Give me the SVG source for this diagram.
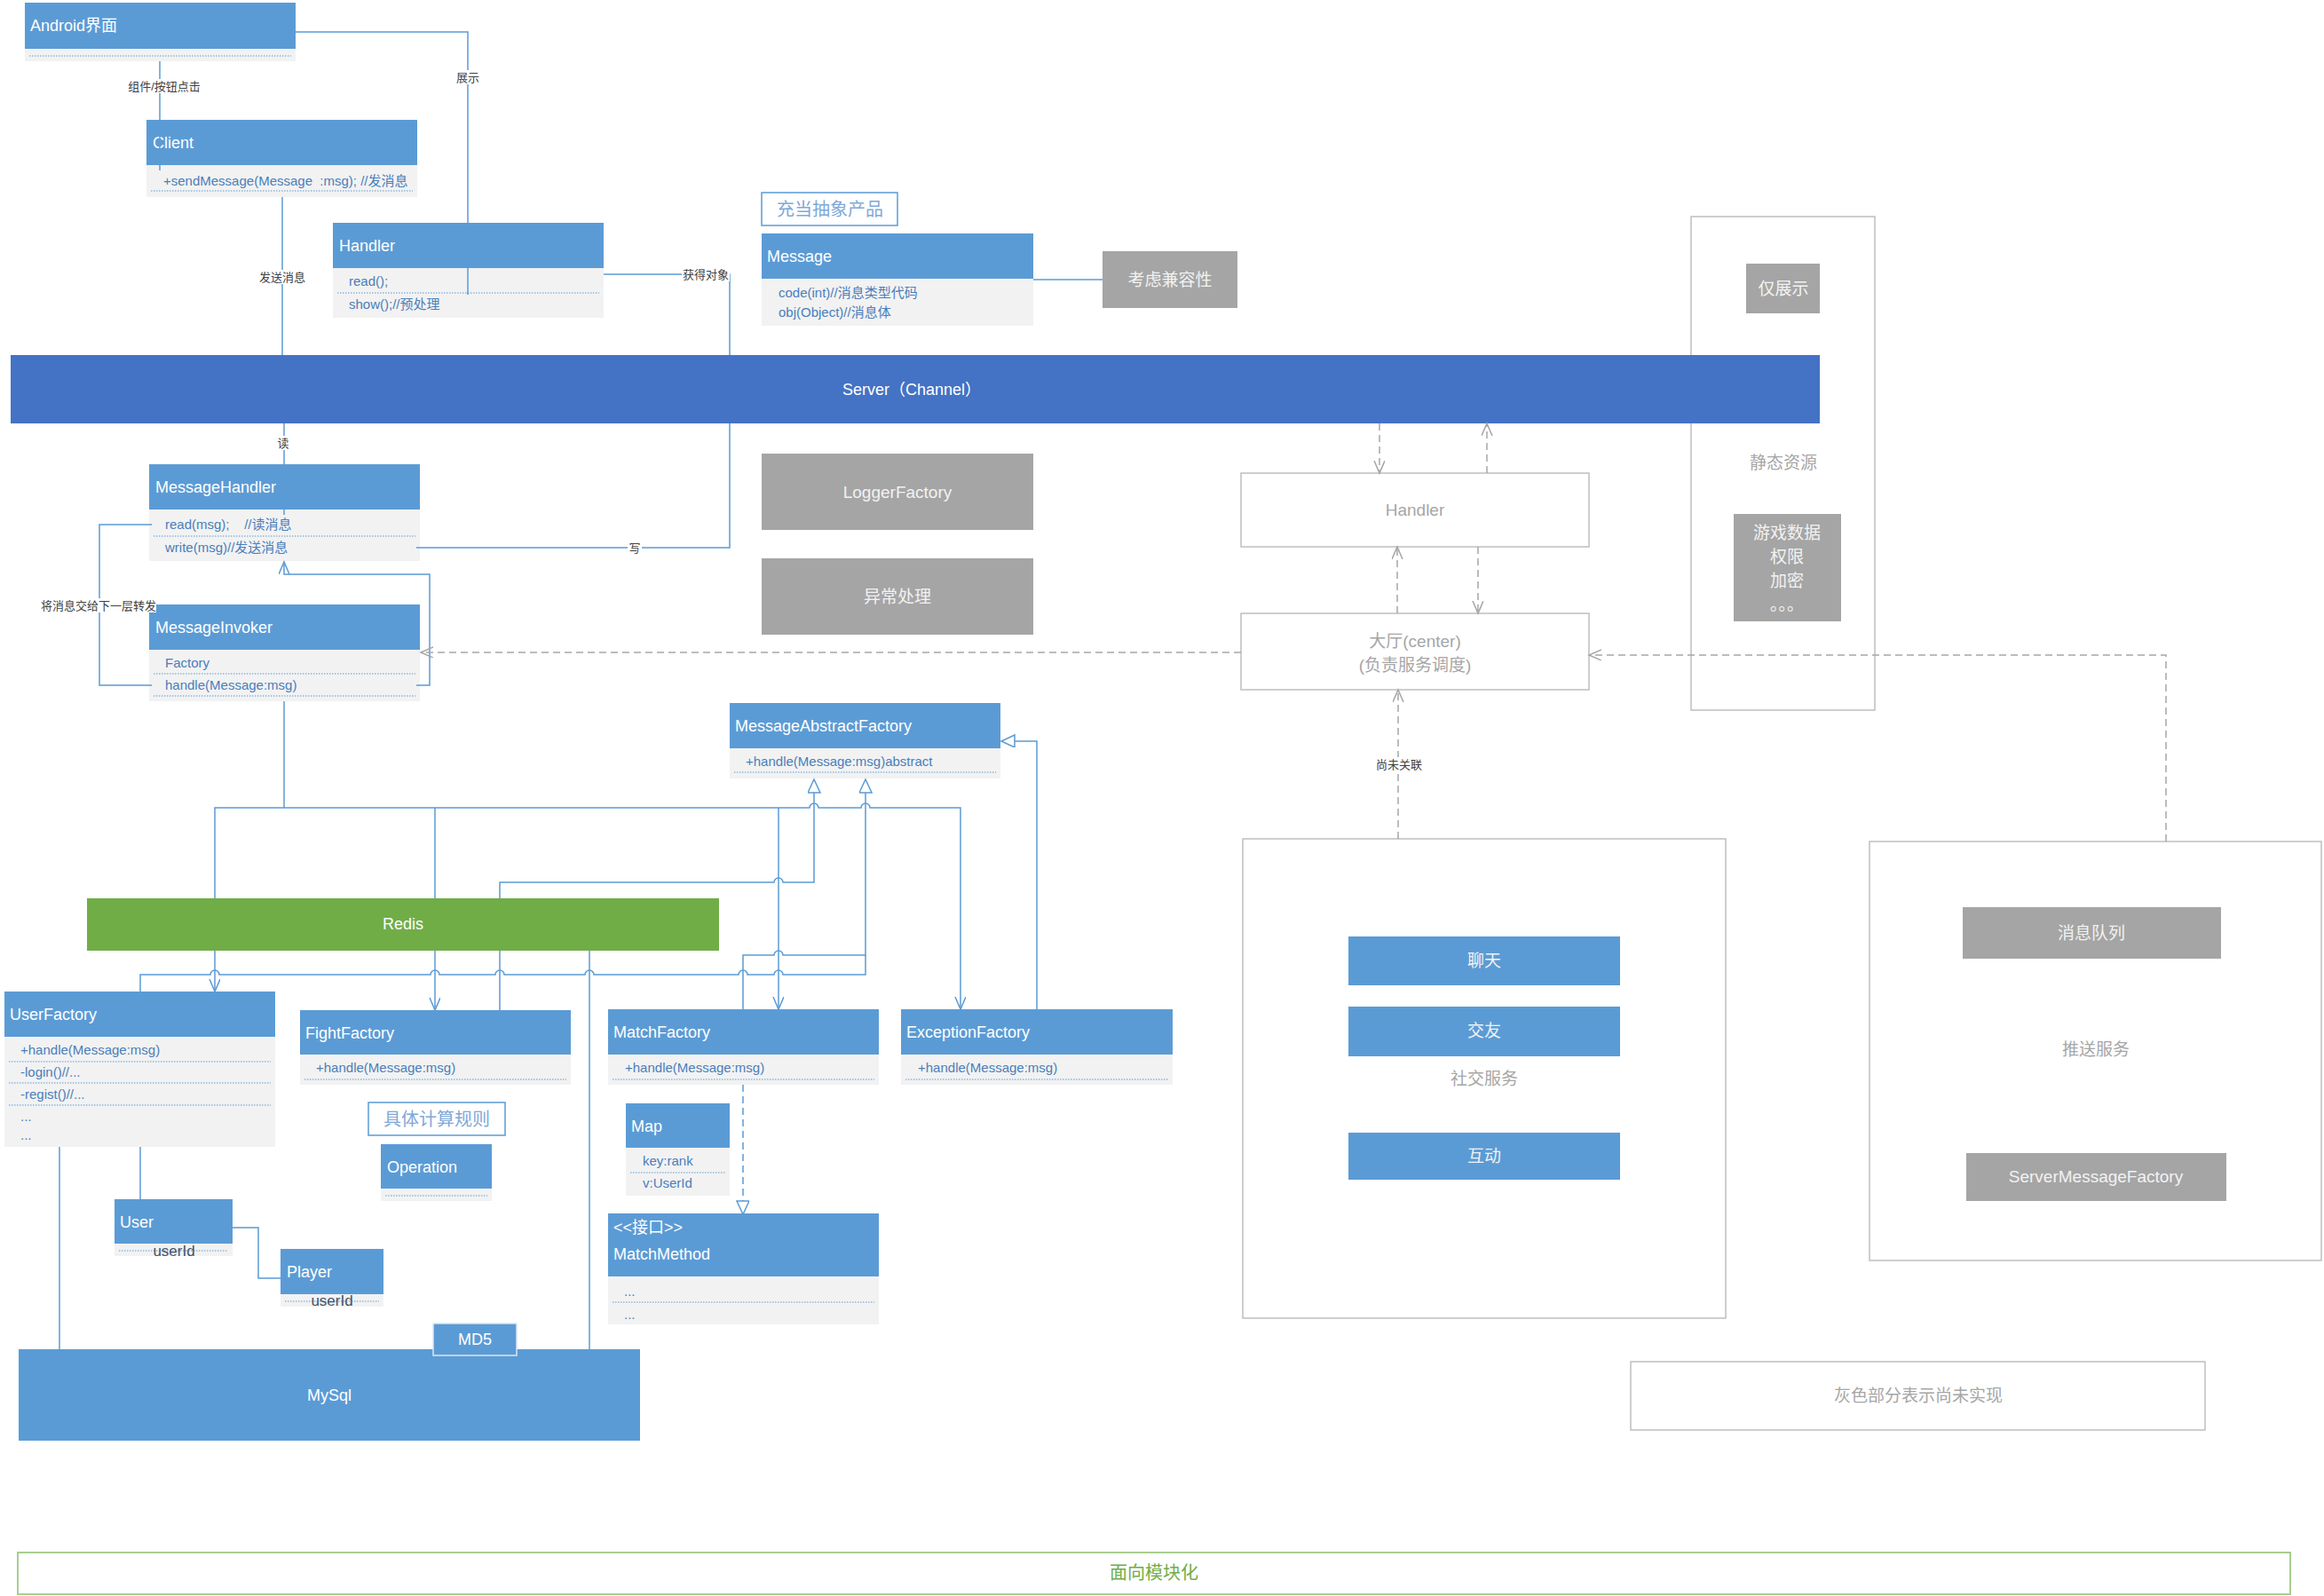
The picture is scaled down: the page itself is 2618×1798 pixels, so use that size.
<svg xmlns="http://www.w3.org/2000/svg" width="2618" height="1798" viewBox="0 0 2618 1798">
<style>
text{font-family:"Liberation Sans","Noto Sans CJK SC",sans-serif}
.hdr{fill:#5b9bd5}
.cmp{fill:#f2f2f2}
.ttl{font-size:18px;fill:#ffffff}
.mem{font-size:15px;fill:#4a7ebb;white-space:pre}
.dot{stroke:#5b9bd5;stroke-width:1;stroke-dasharray:1.5 1.5}
.lbl{font-size:13px;fill:#404040;text-anchor:middle}
.lbg{fill:#ffffff}
.gray{fill:#a5a5a5}
.wt{font-size:19px;fill:#f2f2f2;text-anchor:middle}
.cont{fill:#ffffff;stroke:#bfbfbf;stroke-width:1.5}
.gt{font-size:19px;fill:#a6a6a6;text-anchor:middle}
.ln{fill:none;stroke:#5b9bd5;stroke-width:1.5}
.dl{fill:none;stroke:#a6a6a6;stroke-width:1.5;stroke-dasharray:8 5}
.note{fill:#ffffff;stroke:#5b9bd5;stroke-width:1.5}
.nt{font-size:20px;fill:#7fa8d8;text-anchor:middle}
.uid{font-size:17px;fill:#44546a;text-anchor:middle}
</style>
<defs>
<marker id="oa" markerUnits="userSpaceOnUse" markerWidth="16" markerHeight="14" refX="14" refY="6" orient="auto-start-reverse">
<path d="M0,0 L14,6 L0,12" fill="none" stroke="#5b9bd5" stroke-width="1.5"/>
</marker>
<marker id="tri" markerUnits="userSpaceOnUse" markerWidth="18" markerHeight="16" refX="16" refY="7" orient="auto">
<path d="M1,0 L16,7 L1,14 Z" fill="#ffffff" stroke="#5b9bd5" stroke-width="1.5"/>
</marker>
<marker id="ga" markerUnits="userSpaceOnUse" markerWidth="16" markerHeight="14" refX="14" refY="6" orient="auto">
<path d="M0,0 L14,6 L0,12" fill="none" stroke="#a6a6a6" stroke-width="1.5"/>
</marker>
</defs>
<rect width="2618" height="1798" fill="#ffffff"/>

<!-- containers -->
<g id="static-resources">
<rect class="cont" x="1905" y="244" width="207" height="556"/>
<text class="gt" x="2009" y="528">静态资源</text>
</g>
<g id="social-service">
<rect class="cont" x="1400" y="945" width="544" height="540"/>
<text class="gt" x="1672" y="1222">社交服务</text>
</g>
<g id="push-service">
<rect class="cont" x="2106" y="948" width="509" height="472"/>
<text class="gt" x="2361" y="1189">推送服务</text>
</g>
<g id="gray-note">
<rect class="cont" x="1837" y="1534" width="647" height="77"/>
<text class="gt" x="2161" y="1579">灰色部分表示尚未实现</text>
</g>
<g id="modular">
<rect x="20" y="1749" width="2560" height="47" fill="#ffffff" stroke="#8cbf6c" stroke-width="1.5"/>
<text x="1300" y="1779" font-size="20" fill="#70ad47" text-anchor="middle">面向模块化</text>
</g>

<g id="server">
<rect x="12" y="400" width="2038" height="77" fill="#4472c4"/>
<text x="1027" y="445" font-size="18" fill="#ffffff" text-anchor="middle">Server（Channel）</text>
</g>

<!-- class nodes -->
<g id="android">
<rect class="cmp" x="28" y="3" width="305" height="66"/>
<rect class="hdr" x="28" y="3" width="305" height="52"/>
<line class="dot" x1="33" y1="63" x2="328" y2="63"/>
<text class="ttl" x="34" y="35">Android界面</text>
</g>
<g id="client">
<rect class="cmp" x="165" y="135" width="305" height="87"/>
<rect class="hdr" x="165" y="135" width="305" height="51"/>
<text class="ttl" x="172" y="167">Client</text>
<text class="mem" x="184" y="209">+sendMessage(Message  :msg); //发消息</text>
<line class="dot" x1="170" y1="215" x2="465" y2="215"/>
</g>
<g id="handler">
<rect class="cmp" x="375" y="251" width="305" height="107"/>
<rect class="hdr" x="375" y="251" width="305" height="51"/>
<text class="ttl" x="382" y="283">Handler</text>
<text class="mem" x="393" y="322">read();</text>
<line class="dot" x1="380" y1="330" x2="675" y2="330"/>
<text class="mem" x="393" y="348">show();//预处理</text>
</g>
<g id="abstract-product-note">
<rect class="note" x="858" y="217" width="153" height="37"/>
<text class="nt" x="935" y="243">充当抽象产品</text>
</g>
<g id="message">
<rect class="cmp" x="858" y="263" width="306" height="104"/>
<rect class="hdr" x="858" y="263" width="306" height="51"/>
<text class="ttl" x="864" y="295">Message</text>
<text class="mem" x="877" y="335">code(int)//消息类型代码</text>
<text class="mem" x="877" y="357">obj(Object)//消息体</text>
</g>
<g id="compat">
<rect class="gray" x="1242" y="283" width="152" height="64"/>
<text class="wt" x="1318" y="322" font-size="20">考虑兼容性</text>
</g>
<g id="logger-factory">
<rect class="gray" x="858" y="511" width="306" height="86"/>
<text class="wt" x="1011" y="561">LoggerFactory</text>
</g>
<g id="exception-handling">
<rect class="gray" x="858" y="629" width="306" height="86"/>
<text class="wt" x="1011" y="679">异常处理</text>
</g>
<g id="display-only">
<rect class="gray" x="1967" y="297" width="83" height="56"/>
<text class="wt" x="2009" y="332">仅展示</text>
</g>
<g id="game-data">
<rect class="gray" x="1953" y="579" width="121" height="121"/>
<text class="wt" x="2013" y="607">游戏数据</text>
<text class="wt" x="2013" y="634">权限</text>
<text class="wt" x="2013" y="661">加密</text>
<text class="wt" x="2013" y="688" font-size="14">。。。</text>
</g>
<g id="message-handler">
<rect class="cmp" x="168" y="523" width="305" height="109"/>
<rect class="hdr" x="168" y="523" width="305" height="51"/>
<text class="ttl" x="175" y="555">MessageHandler</text>
<text class="mem" x="186" y="596">read(msg);    //读消息</text>
<line class="dot" x1="173" y1="604" x2="468" y2="604"/>
<text class="mem" x="186" y="622">write(msg)//发送消息</text>
</g>
<g id="message-invoker">
<rect class="cmp" x="168" y="681" width="305" height="109"/>
<rect class="hdr" x="168" y="681" width="305" height="51"/>
<text class="ttl" x="175" y="713">MessageInvoker</text>
<text class="mem" x="186" y="752">Factory</text>
<line class="dot" x1="173" y1="759" x2="468" y2="759"/>
<text class="mem" x="186" y="777">handle(Message:msg)</text>
<line class="dot" x1="173" y1="784" x2="468" y2="784"/>
</g>
<g id="handler-right">
<rect class="cont" x="1398" y="533" width="392" height="83"/>
<text class="gt" x="1594" y="581" font-size="18">Handler</text>
</g>
<g id="lobby">
<rect class="cont" x="1398" y="691" width="392" height="86"/>
<text class="gt" x="1594" y="729">大厅(center)</text>
<text class="gt" x="1594" y="756">(负责服务调度)</text>
</g>
<g id="message-abstract-factory">
<rect class="cmp" x="822" y="792" width="305" height="85"/>
<rect class="hdr" x="822" y="792" width="305" height="51"/>
<text class="ttl" x="828" y="824">MessageAbstractFactory</text>
<text class="mem" x="840" y="863">+handle(Message:msg)abstract</text>
<line class="dot" x1="827" y1="870" x2="1122" y2="870"/>
</g>
<g id="user-factory">
<rect class="cmp" x="5" y="1117" width="305" height="175"/>
<rect class="hdr" x="5" y="1117" width="305" height="51"/>
<text class="ttl" x="11" y="1149">UserFactory</text>
<text class="mem" x="23" y="1188">+handle(Message:msg)</text>
<line class="dot" x1="10" y1="1196" x2="305" y2="1196"/>
<text class="mem" x="23" y="1213">-login()//...</text>
<line class="dot" x1="10" y1="1220" x2="305" y2="1220"/>
<text class="mem" x="23" y="1238">-regist()//...</text>
<line class="dot" x1="10" y1="1245" x2="305" y2="1245"/>
<text class="mem" x="23" y="1263">...</text>
<text class="mem" x="23" y="1284">...</text>
</g>
<g id="fight-factory">
<rect class="cmp" x="338" y="1138" width="305" height="84"/>
<rect class="hdr" x="338" y="1138" width="305" height="50"/>
<text class="ttl" x="344" y="1170">FightFactory</text>
<text class="mem" x="356" y="1208">+handle(Message:msg)</text>
<line class="dot" x1="343" y1="1216" x2="638" y2="1216"/>
</g>
<g id="match-factory">
<rect class="cmp" x="685" y="1137" width="305" height="85"/>
<rect class="hdr" x="685" y="1137" width="305" height="51"/>
<text class="ttl" x="691" y="1169">MatchFactory</text>
<text class="mem" x="704" y="1208">+handle(Message:msg)</text>
<line class="dot" x1="690" y1="1216" x2="985" y2="1216"/>
</g>
<g id="exception-factory">
<rect class="cmp" x="1015" y="1137" width="306" height="85"/>
<rect class="hdr" x="1015" y="1137" width="306" height="51"/>
<text class="ttl" x="1021" y="1169">ExceptionFactory</text>
<text class="mem" x="1034" y="1208">+handle(Message:msg)</text>
<line class="dot" x1="1020" y1="1216" x2="1316" y2="1216"/>
</g>
<g id="calc-rule-note">
<rect class="note" x="415" y="1242" width="154" height="37"/>
<text class="nt" x="492" y="1268">具体计算规则</text>
</g>
<g id="operation">
<rect class="cmp" x="429" y="1289" width="125" height="64"/>
<rect class="hdr" x="429" y="1289" width="125" height="50"/>
<text class="ttl" x="436" y="1321">Operation</text>
<line class="dot" x1="434" y1="1347" x2="549" y2="1347"/>
</g>
<g id="user">
<rect class="cmp" x="129" y="1351" width="133" height="64"/>
<rect class="hdr" x="129" y="1351" width="133" height="50"/>
<text class="ttl" x="135" y="1383">User</text>
<line class="dot" x1="134" y1="1409" x2="257" y2="1409"/>
<text class="uid" x="196" y="1415">userId</text>
</g>
<g id="player">
<rect class="cmp" x="316" y="1407" width="116" height="65"/>
<rect class="hdr" x="316" y="1407" width="116" height="51"/>
<text class="ttl" x="323" y="1439">Player</text>
<line class="dot" x1="321" y1="1466" x2="427" y2="1466"/>
<text class="uid" x="374" y="1471">userId</text>
</g>
<g id="map">
<rect class="cmp" x="705" y="1243" width="117" height="104"/>
<rect class="hdr" x="705" y="1243" width="117" height="50"/>
<text class="ttl" x="711" y="1275">Map</text>
<text class="mem" x="724" y="1313">key:rank</text>
<line class="dot" x1="710" y1="1321" x2="817" y2="1321"/>
<text class="mem" x="724" y="1338">v:UserId</text>
</g>
<g id="match-method">
<rect class="cmp" x="685" y="1367" width="305" height="125"/>
<rect class="hdr" x="685" y="1367" width="305" height="71"/>
<text class="ttl" x="691" y="1389" font-size="16">&lt;&lt;接口&gt;&gt;</text>
<text class="ttl" x="691" y="1419">MatchMethod</text>
<text class="mem" x="703" y="1460">...</text>
<line class="dot" x1="690" y1="1467" x2="985" y2="1467"/>
<text class="mem" x="703" y="1486">...</text>
</g>
<g id="chat">
<rect class="hdr" x="1519" y="1055" width="306" height="55"/>
<text class="wt" x="1672" y="1089">聊天</text>
</g>
<g id="friends">
<rect class="hdr" x="1519" y="1134" width="306" height="56"/>
<text class="wt" x="1672" y="1168">交友</text>
</g>
<g id="interact">
<rect class="hdr" x="1519" y="1276" width="306" height="53"/>
<text class="wt" x="1672" y="1309">互动</text>
</g>
<g id="message-queue">
<rect class="gray" x="2211" y="1022" width="291" height="58"/>
<text class="wt" x="2356" y="1058">消息队列</text>
</g>
<g id="server-message-factory">
<rect class="gray" x="2215" y="1299" width="293" height="54"/>
<text class="wt" x="2361" y="1332" font-size="17">ServerMessageFactory</text>
</g>

<!-- connectors -->
<g id="connectors">
<path class="ln" d="M180,69 V192"/>
<path class="ln" d="M333,36 H527 V332"/>
<path class="ln" d="M318,222 V400"/>
<path class="ln" d="M680,309 H822 V400"/>
<path class="ln" d="M1164,315 H1242"/>
<path class="ln" d="M320,477 V580"/>
<path class="ln" d="M469,617 H822 V477"/>
<path class="ln" d="M171,772 H112 V591 H171"/>
<path class="ln" d="M469,772 H484 V647 H320 V633" marker-end="url(#oa)"/>
<path class="ln" d="M320,790 V910"/>
<path class="ln" d="M242,1117 V910 H912 A5,5 0 0 1 922,910 H970 A5,5 0 0 1 980,910 H1082 V1137" marker-start="url(#oa)" marker-end="url(#oa)"/>
<path class="ln" d="M490,910 V1138" marker-end="url(#oa)"/>
<path class="ln" d="M877,910 V1137" marker-end="url(#oa)"/>
<path class="ln" d="M563,1138 V994 H872 A5,5 0 0 1 882,994 H917 V878" marker-end="url(#tri)"/>
<path class="ln" d="M837,1137 V1076 H872 A5,5 0 0 1 882,1076 H975 V878" marker-end="url(#tri)"/>
<path class="ln" d="M158,1117 V1098 H237 A5,5 0 0 1 247,1098 H485 A5,5 0 0 1 495,1098 H558 A5,5 0 0 1 568,1098 H659 A5,5 0 0 1 669,1098 H832 A5,5 0 0 1 842,1098 H872 A5,5 0 0 1 882,1098 H975 V1076"/>
<path class="ln" d="M1168,1137 V835 H1128" marker-end="url(#tri)"/>
<path class="ln" d="M664,1071 V1520"/>
<path class="ln" d="M67,1292 V1520"/>
<path class="ln" d="M158,1292 V1351"/>
<path class="ln" d="M262,1383 H291 V1440 H316"/>
<path class="ln" d="M837,1222 V1368" stroke-dasharray="8 5" marker-end="url(#tri)"/>
<path class="dl" d="M1554,477 V533" marker-end="url(#ga)"/>
<path class="dl" d="M1675,533 V477" marker-end="url(#ga)"/>
<path class="dl" d="M1574,691 V616" marker-end="url(#ga)"/>
<path class="dl" d="M1665,616 V691" marker-end="url(#ga)"/>
<path class="dl" d="M1398,735 H474" marker-end="url(#ga)"/>
<path class="dl" d="M2440,948 V738 H1790" marker-end="url(#ga)"/>
<path class="dl" d="M1575,945 V777" marker-end="url(#ga)"/>
<rect class="lbg" x="143" y="89" width="84" height="16"/>
<text class="lbl" x="185" y="102">组件/按钮点击</text>
<rect class="lbg" x="513" y="79" width="28" height="16"/>
<text class="lbl" x="527" y="92">展示</text>
<rect class="lbg" x="291" y="304" width="54" height="16"/>
<text class="lbl" x="318" y="317">发送消息</text>
<rect class="lbg" x="768" y="301" width="54" height="16"/>
<text class="lbl" x="795" y="314">获得对象</text>
<rect class="lbg" x="311" y="491" width="16" height="16"/>
<text class="lbl" x="319" y="504">读</text>
<rect class="lbg" x="707" y="609" width="16" height="16"/>
<text class="lbl" x="715" y="622">写</text>
<rect class="lbg" x="46" y="674" width="130" height="16"/>
<text class="lbl" x="111" y="687">将消息交给下一层转发</text>
<rect class="lbg" x="1550" y="853" width="52" height="16"/>
<text class="lbl" x="1576" y="866">尚未关联</text>
</g>

<g id="redis">
<rect x="98" y="1012" width="712" height="59" fill="#70ad47"/>
<text class="ttl" x="454" y="1047" text-anchor="middle">Redis</text>
</g>
<g id="mysql">
<rect x="21" y="1520" width="700" height="103" fill="#5b9bd5"/>
<text class="ttl" x="371" y="1578" text-anchor="middle">MySql</text>
</g>
<g id="md5">
<rect x="488" y="1491" width="94" height="36" fill="#5b9bd5" stroke="#dce6f2" stroke-width="1.5"/>
<text class="ttl" x="535" y="1515" text-anchor="middle">MD5</text>
</g>
</svg>
